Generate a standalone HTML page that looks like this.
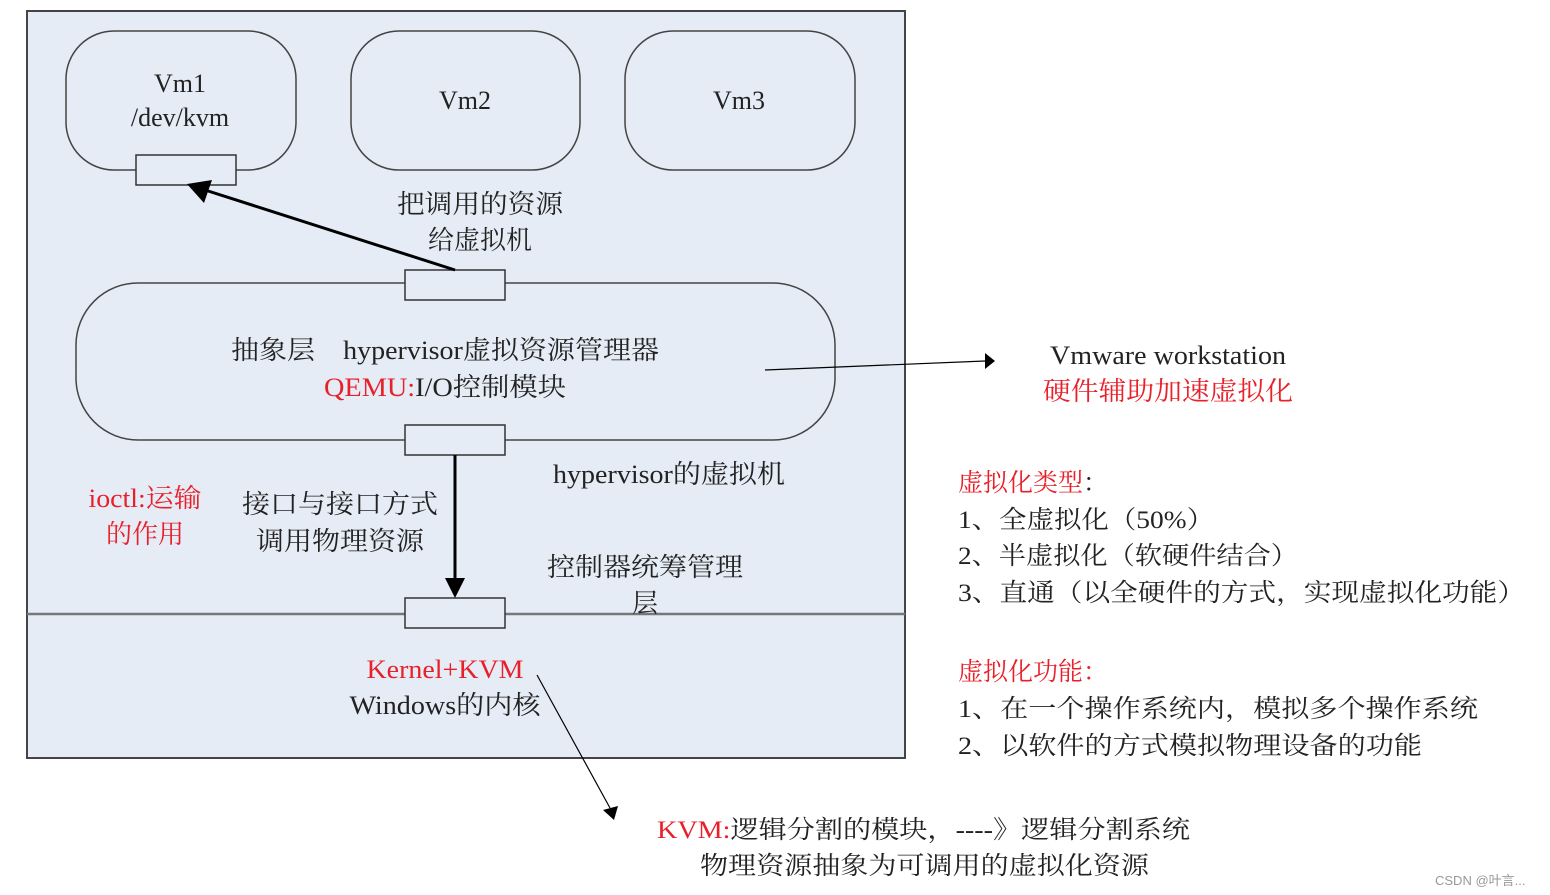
<!DOCTYPE html>
<html><head><meta charset="utf-8"><style>
html,body{margin:0;padding:0;background:#fff;}
svg{display:block;}
text{font-family:"Liberation Serif","Noto Serif CJK SC",serif;fill:#222;}
.r{fill:#e8202a;}
</style></head><body>
<svg width="1550" height="895" viewBox="0 0 1550 895" xmlns="http://www.w3.org/2000/svg">
<rect x="27" y="11" width="878" height="747" fill="#e6ecf6" stroke="#444" stroke-width="2"/>
<line x1="27" y1="614" x2="905" y2="614" stroke="#777" stroke-width="2.5"/>
<rect x="66" y="31" width="230" height="139" rx="48" fill="none" stroke="#444" stroke-width="1.5"/>
<rect x="351" y="31" width="229" height="139" rx="48" fill="none" stroke="#444" stroke-width="1.5"/>
<rect x="625" y="31" width="230" height="139" rx="48" fill="none" stroke="#444" stroke-width="1.5"/>
<rect x="76" y="283" width="759" height="157" rx="62" fill="none" stroke="#444" stroke-width="1.5"/>
<rect x="136" y="155" width="100" height="30" fill="#e6ecf6" stroke="#333" stroke-width="1.5"/>
<rect x="405" y="270" width="100" height="30" fill="#e6ecf6" stroke="#333" stroke-width="1.5"/>
<rect x="405" y="425" width="100" height="30" fill="#e6ecf6" stroke="#333" stroke-width="1.5"/>
<rect x="405" y="598" width="100" height="30" fill="#e6ecf6" stroke="#333" stroke-width="1.5"/>
<line x1="455" y1="270" x2="205" y2="190" stroke="#000" stroke-width="3"/>
<path d="M187,184 L212,180 L204,203 z" fill="#000"/>
<line x1="455" y1="455" x2="455" y2="580" stroke="#000" stroke-width="3"/>
<path d="M445,578 L465,578 L455,598 z" fill="#000"/>
<line x1="765" y1="370" x2="985" y2="361" stroke="#000" stroke-width="1.2"/>
<path d="M985,353 L995,361 L985,369 z" fill="#000"/>
<line x1="537" y1="675" x2="610" y2="808" stroke="#000" stroke-width="1.2"/>
<path d="M603,810 L618,806 L614,820 z" fill="#000"/>

<g font-size="26" text-anchor="middle">
<text x="180" y="92">Vm1</text>
<text x="180" y="126">/dev/kvm</text>
<text x="465" y="109">Vm2</text>
<text x="739" y="109">Vm3</text>
<text x="480" y="213" textLength="166" lengthAdjust="spacingAndGlyphs">把调用的资源</text>
<text x="480" y="249">给虚拟机</text>
<text x="445" y="359" textLength="428" lengthAdjust="spacingAndGlyphs">抽象层　hypervisor虚拟资源管理器</text>
<text x="445" y="396" textLength="242" lengthAdjust="spacingAndGlyphs"><tspan class="r">QEMU:</tspan>I/O控制模块</text>
<text x="669" y="483" textLength="232" lengthAdjust="spacingAndGlyphs">hypervisor的虚拟机</text>
<text x="145" y="507" class="r" textLength="113" lengthAdjust="spacingAndGlyphs">ioctl:运输</text>
<text x="145" y="543" class="r">的作用</text>
<text x="340" y="513" textLength="196" lengthAdjust="spacingAndGlyphs">接口与接口方式</text>
<text x="340" y="550" textLength="168" lengthAdjust="spacingAndGlyphs">调用物理资源</text>
<text x="645" y="576" textLength="196" lengthAdjust="spacingAndGlyphs">控制器统筹管理</text>
<text x="645" y="612">层</text>
<text x="445" y="678" class="r" textLength="157" lengthAdjust="spacingAndGlyphs">Kernel+KVM</text>
<text x="445" y="714" textLength="191" lengthAdjust="spacingAndGlyphs">Windows的内核</text>
<text x="1168" y="364" textLength="236" lengthAdjust="spacingAndGlyphs">Vmware workstation</text>
<text x="1168" y="400" class="r" textLength="250" lengthAdjust="spacingAndGlyphs">硬件辅助加速虚拟化</text>
</g>
<g font-size="25">
<text x="958" y="491" class="r">虚拟化类型<tspan fill="#222">：</tspan></text>
<text x="958" y="528" textLength="256" lengthAdjust="spacingAndGlyphs">1、全虚拟化（50%）</text>
<text x="958" y="564" textLength="340" lengthAdjust="spacingAndGlyphs">2、半虚拟化（软硬件结合）</text>
<text x="958" y="601" textLength="567" lengthAdjust="spacingAndGlyphs">3、直通（以全硬件的方式，实现虚拟化功能）</text>
<text x="958" y="680" class="r">虚拟化功能：</text>
<text x="958" y="717" textLength="520" lengthAdjust="spacingAndGlyphs">1、在一个操作系统内，模拟多个操作系统</text>
<text x="958" y="754" textLength="464" lengthAdjust="spacingAndGlyphs">2、以软件的方式模拟物理设备的功能</text>
<text x="657" y="838" textLength="533" lengthAdjust="spacingAndGlyphs"><tspan class="r">KVM:</tspan>逻辑分割的模块，----》逻辑分割系统</text>
<text x="700" y="874" textLength="449" lengthAdjust="spacingAndGlyphs">物理资源抽象为可调用的虚拟化资源</text>
</g>
<text x="1435" y="885" font-size="13" style="font-family:'Liberation Sans','Noto Sans CJK SC',sans-serif;fill:#999">CSDN @叶言...</text>
</svg>
</body></html>
